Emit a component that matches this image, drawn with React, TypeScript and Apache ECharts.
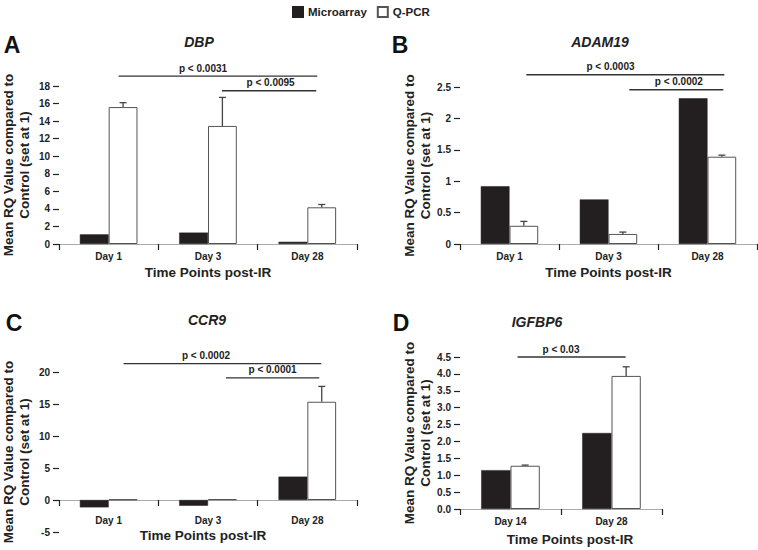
import React, { useEffect, useRef } from "react";
import * as echarts from "echarts";

// ---------- data ----------
const daysABC = ["Day 1", "Day 3", "Day 28"];
const daysD = ["Day 14", "Day 28"];

const dbpMicro = [1.1, 1.3, 0.25];
const dbpQpcr = [15.6, 13.45, 4.18];
const dbpErrTop = [16.1, 16.7, 4.5];

const adamMicro = [0.92, 0.71, 2.32];
const adamQpcr = [0.29, 0.16, 1.39];
const adamErrTop = [0.36, 0.19, 1.415];

const ccrMicro = [-1.15, -0.9, 3.65];
const ccrQpcr = [0.08, 0.12, 15.35];
const ccrErrTop = [null, null, 17.75];

const igfMicro = [1.15, 2.25];
const igfQpcr = [1.28, 3.94];
const igfErrTop = [1.3, 4.21];

// significance brackets: from category position x1 to x2 at value y, label centred at lx
const dbpSig = [
  { x1: 0.1, x2: 2.1, y: 19.13, lx: 0.95, text: "p < 0.0031" },
  { x1: 1.14, x2: 2.09, y: 17.46, lx: 1.63, text: "p < 0.0095" },
];
const adamSig = [
  { x1: 0.17, x2: 2.17, y: 2.695, lx: 1.02, text: "p < 0.0003" },
  { x1: 1.21, x2: 2.16, y: 2.456, lx: 1.71, text: "p < 0.0002" },
];
const ccrSig = [
  { x1: 0.15, x2: 2.14, y: 21.3, lx: 0.98, text: "p < 0.0002" },
  { x1: 1.18, x2: 2.12, y: 19.07, lx: 1.65, text: "p < 0.0001" },
];
const igfSig = [{ x1: 0.07, x2: 1.14, y: 4.5, lx: 0.5, text: "p < 0.03" }];

const yTicksA = { min: 0, max: 18, interval: 2 };
const yTicksB = { min: 0, max: 2.5, interval: 0.5 };
const yTicksC = { min: -5, max: 20, interval: 5 };
const yTicksD = { min: 0, max: 4.5, interval: 0.5 };

// ---------- layout / style ----------
const FONT = '"Liberation Sans", Arial, Helvetica, sans-serif';
const DARK = "#222";

const panels = [
  {
    letter: "A", gene: "DBP", cats: daysABC, micro: dbpMicro, qpcr: dbpQpcr, err: dbpErrTop, sig: dbpSig, ticks: yTicksA,
    grid: { left: 59, top: 86, width: 298, height: 158 },
    letterPos: [12, 45], genePos: [199, 42], yNameGap: 27, xLabelMargin: 7, xNameGap: 21, xNamePad: 0, fmt: null,
  },
  {
    letter: "B", gene: "ADAM19", cats: daysABC, micro: adamMicro, qpcr: adamQpcr, err: adamErrTop, sig: adamSig, ticks: yTicksB,
    grid: { left: 460, top: 87, width: 297, height: 157 },
    letterPos: [400, 45], genePos: [600, 42], yNameGap: 18, xLabelMargin: 7, xNameGap: 21, xNamePad: 0, fmt: null,
  },
  {
    letter: "C", gene: "CCR9", cats: daysABC, micro: ccrMicro, qpcr: ccrQpcr, err: ccrErrTop, sig: ccrSig, ticks: yTicksC,
    grid: { left: 59, top: 372, width: 298, height: 160 },
    letterPos: [14, 323], genePos: [207, 320], yNameGap: 27, xLabelMargin: 15, xNameGap: 28, xNamePad: -10, fmt: null,
  },
  {
    letter: "D", gene: "IGFBP6", cats: daysD, micro: igfMicro, qpcr: igfQpcr, err: igfErrTop, sig: igfSig, ticks: yTicksD,
    grid: { left: 460, top: 357, width: 202, height: 152 },
    letterPos: [401, 323], genePos: [537, 322], yNameGap: 20, xLabelMargin: 7, xNameGap: 23, xNamePad: 18, fmt: (v: number) => v.toFixed(1),
  },
];

function buildOption() {
  const grid: any[] = [];
  const xAxis: any[] = [];
  const yAxis: any[] = [];
  const series: any[] = [];
  const graphic: any[] = [];

  panels.forEach((p, i) => {
    grid.push({ ...p.grid, containLabel: false, outerBoundsMode: "none" });
    // place the category axis on the zero line of the value axis
    const zeroOffset = -((0 - p.ticks.min) / (p.ticks.max - p.ticks.min)) * p.grid.height;
    xAxis.push({
      gridIndex: i,
      type: "category",
      data: p.cats,
      position: "bottom",
      offset: zeroOffset,
      axisLine: { show: true, onZero: false, lineStyle: { color: "#aaa", width: 1 } },
      axisTick: { show: true, interval: 0, length: 6, alignWithLabel: false, lineStyle: { color: DARK, width: 1.2 } },
      axisLabel: { interval: 0, margin: p.xLabelMargin, fontSize: 10, fontWeight: "bold", color: DARK, fontFamily: FONT },
      name: "Time Points post-IR",
      nameLocation: "middle",
      nameGap: p.xNameGap,
      nameTextStyle: {
        fontSize: 13.5, fontWeight: "bold", color: DARK, fontFamily: FONT,
        padding: p.xNamePad >= 0 ? [0, 0, 0, p.xNamePad] : [0, -p.xNamePad, 0, 0],
      },
      splitLine: { show: false },
    });
    yAxis.push({
      gridIndex: i,
      type: "value",
      min: p.ticks.min,
      max: p.ticks.max,
      interval: p.ticks.interval,
      axisLine: { show: false },
      axisTick: { show: true, length: 6, lineStyle: { color: DARK, width: 1.2 } },
      splitLine: { show: false },
      axisLabel: {
        margin: 9, fontSize: 10, fontWeight: "bold", color: DARK, fontFamily: FONT,
        formatter: p.fmt ? p.fmt : undefined,
      },
      name: "Mean RQ Value compared to\nControl (set at 1)",
      nameLocation: "middle",
      nameGap: p.yNameGap,
      nameTextStyle: { fontSize: 13.5, fontWeight: "bold", color: DARK, fontFamily: FONT, lineHeight: 16 },
    });

    series.push({
      name: "Microarray",
      type: "bar",
      xAxisIndex: i,
      yAxisIndex: i,
      data: p.micro,
      barWidth: "29%",
      barGap: "0%",
      itemStyle: { color: "#231f20", borderColor: "#231f20", borderWidth: 0.5 },
      z: 2,
    });
    series.push({
      name: "Q-PCR",
      type: "bar",
      xAxisIndex: i,
      yAxisIndex: i,
      data: p.qpcr,
      barWidth: "29%",
      barGap: "0%",
      itemStyle: { color: "#ffffff", borderColor: "#555", borderWidth: 1 },
      z: 2,
    });

    const errData: any[] = [];
    p.err.forEach((e, k) => {
      if (e !== null && e !== undefined) errData.push([k, p.qpcr[k], e]);
    });
    series.push({
      name: "err" + p.letter,
      type: "custom",
      xAxisIndex: i,
      yAxisIndex: i,
      data: errData,
      z: 4,
      clip: false,
      renderItem: (params: any, api: any) => {
        const base = api.coord([api.value(0), api.value(1)]);
        const top = api.coord([api.value(0), api.value(2)]);
        const w = api.size([1, 0])[0];
        const x = base[0] + w * 0.145;
        const st = { stroke: "#444", lineWidth: 1.3 };
        return {
          type: "group",
          children: [
            { type: "line", shape: { x1: x, y1: base[1], x2: x, y2: top[1] }, style: st },
            { type: "line", shape: { x1: x - 3.5, y1: top[1], x2: x + 3.5, y2: top[1] }, style: st },
          ],
        };
      },
    });

    const sig = p.sig;
    series.push({
      name: "sig" + p.letter,
      type: "custom",
      xAxisIndex: i,
      yAxisIndex: i,
      data: sig.map((s) => [s.x1, s.y]),
      z: 4,
      clip: false,
      renderItem: (params: any, api: any) => {
        const s = sig[params.dataIndex];
        const w = api.size([1, 0])[0];
        const pos = (x: number, y: number) => {
          const k = Math.floor(x);
          const c = api.coord([k, y]);
          return [c[0] + (x - k) * w, c[1]];
        };
        const a = pos(s.x1, s.y);
        const b = pos(s.x2, s.y);
        const l = pos(s.lx, s.y);
        return {
          type: "group",
          children: [
            { type: "line", shape: { x1: a[0], y1: a[1], x2: b[0], y2: b[1] }, style: { stroke: "#333", lineWidth: 1.3 } },
            {
              type: "text",
              x: l[0],
              y: l[1] - 3,
              style: { text: s.text, align: "center", verticalAlign: "bottom", font: `bold 10px ${FONT}`, fill: DARK },
            },
          ],
        };
      },
    });

    graphic.push({
      type: "text",
      x: p.letterPos[0],
      y: p.letterPos[1],
      style: { text: p.letter, align: "center", verticalAlign: "middle", font: `bold 23px ${FONT}`, fill: "#111" },
    });
    graphic.push({
      type: "text",
      x: p.genePos[0],
      y: p.genePos[1],
      style: { text: p.gene, align: "center", verticalAlign: "middle", font: `italic bold 14px ${FONT}`, fill: DARK },
    });
  });

  return {
    animation: false,
    backgroundColor: "#ffffff",
    textStyle: { fontFamily: FONT },
    legend: {
      data: ["Microarray", "Q-PCR"],
      left: 287,
      top: 1,
      itemWidth: 10,
      itemHeight: 10,
      itemGap: 10,
      icon: "rect",
      textStyle: { fontSize: 11.5, fontWeight: "bold", color: DARK, fontFamily: FONT },
      selectedMode: false,
    },
    grid,
    xAxis,
    yAxis,
    series,
    graphic,
  };
}

export default function App() {
  const ref = useRef<HTMLDivElement>(null);
  useEffect(() => {
    if (!ref.current) return;
    const chart = echarts.init(ref.current, undefined, { renderer: "svg" });
    chart.setOption(buildOption() as any);
    return () => chart.dispose();
  }, []);
  return (
    <div
      ref={ref}
      style={{ position: "fixed", left: 0, top: 0, width: 758, height: 550, background: "#fff" }}
    />
  );
}
